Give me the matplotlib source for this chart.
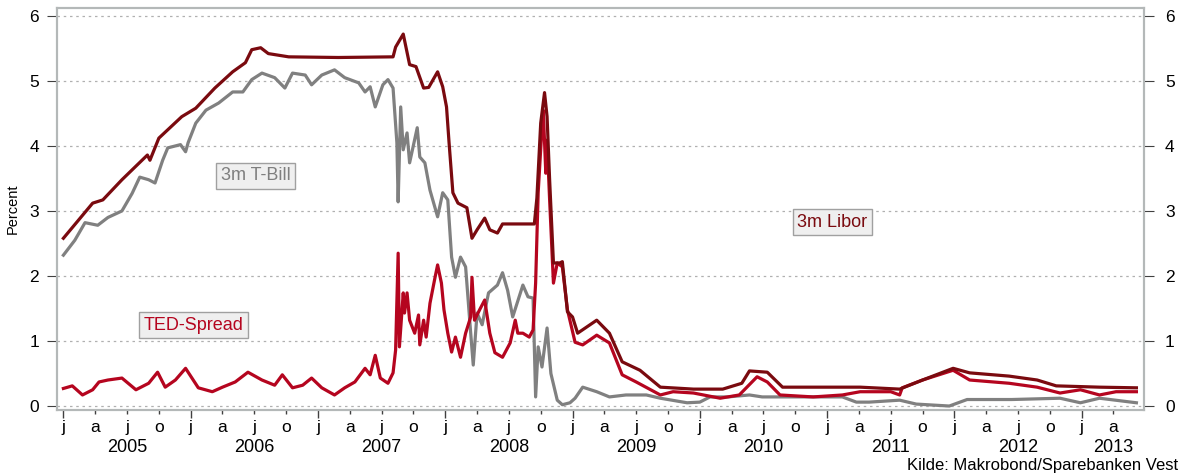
import matplotlib.pyplot as plt
import matplotlib.transforms as mtransforms

plt.rcParams['font.family'] = ['Liberation Sans', 'DejaVu Sans']

# dates as decimal years, values in percent
libor_t = [2005.0, 2005.23, 2005.31, 2005.46, 2005.66, 2005.68, 2005.75, 2005.93, 2006.04,
           2006.19, 2006.33, 2006.43, 2006.48, 2006.55, 2006.61, 2006.77, 2007.16, 2007.59,
           2007.61, 2007.67, 2007.72, 2007.77, 2007.83, 2007.87, 2007.94, 2007.98, 2008.01,
           2008.03, 2008.06, 2008.10, 2008.17, 2008.21, 2008.25, 2008.31, 2008.35, 2008.41,
           2008.45, 2008.70, 2008.72, 2008.75, 2008.78, 2008.80, 2008.82, 2008.85, 2008.90,
           2008.92, 2008.96, 2009.00, 2009.04, 2009.19, 2009.29, 2009.39, 2009.53, 2009.69,
           2009.95, 2010.18, 2010.33, 2010.39, 2010.53, 2010.65, 2010.89, 2011.26, 2011.57,
           2011.75, 2011.99, 2012.12, 2012.43, 2012.65, 2012.80, 2013.14, 2013.43]
libor_v = [2.58, 3.12, 3.17, 3.48, 3.86, 3.78, 4.12, 4.45, 4.58,
           4.89, 5.14, 5.28, 5.48, 5.51, 5.42, 5.37, 5.36, 5.37,
           5.52, 5.72, 5.25, 5.22, 4.89, 4.90, 5.14, 4.91, 4.60,
           4.05, 3.28, 3.12, 3.05, 2.58, 2.71, 2.89, 2.71, 2.66,
           2.80, 2.80, 3.20, 4.35, 4.82, 4.45, 3.48, 2.20, 2.20,
           2.22, 1.45, 1.37, 1.12, 1.32, 1.12, 0.68, 0.55, 0.29,
           0.26, 0.26, 0.35, 0.54, 0.52, 0.29, 0.29, 0.29, 0.26,
           0.40, 0.58, 0.51, 0.46, 0.40, 0.31, 0.29, 0.28]

tbill_t = [2005.0, 2005.09, 2005.17, 2005.27, 2005.35, 2005.46, 2005.54, 2005.60, 2005.67,
           2005.72, 2005.78, 2005.82, 2005.92, 2005.96, 2005.98, 2006.04, 2006.12, 2006.22,
           2006.33, 2006.41, 2006.48, 2006.56, 2006.66, 2006.74, 2006.80, 2006.90, 2006.95,
           2007.03, 2007.13, 2007.21, 2007.32, 2007.37, 2007.41, 2007.45, 2007.51, 2007.55,
           2007.59, 2007.62, 2007.63, 2007.65, 2007.67, 2007.70, 2007.72, 2007.78, 2007.80,
           2007.84, 2007.88, 2007.94, 2007.98, 2008.02, 2008.05, 2008.08, 2008.12, 2008.16,
           2008.20, 2008.22, 2008.25, 2008.29, 2008.34, 2008.41, 2008.45, 2008.49, 2008.53,
           2008.61, 2008.65, 2008.69, 2008.71, 2008.73, 2008.76, 2008.80, 2008.83, 2008.88,
           2008.92, 2008.98, 2009.02, 2009.08, 2009.19, 2009.29, 2009.42, 2009.58, 2009.69,
           2009.90, 2010.00, 2010.08, 2010.22, 2010.39, 2010.49, 2010.73, 2011.12, 2011.23,
           2011.33, 2011.57, 2011.70, 2011.96, 2012.10, 2012.45, 2012.83, 2012.99, 2013.14,
           2013.43]
tbill_v = [2.32, 2.55, 2.82, 2.78, 2.90, 3.00, 3.27, 3.52, 3.48,
           3.43, 3.78, 3.97, 4.02, 3.91, 4.05, 4.35, 4.55, 4.66,
           4.83, 4.83, 5.02, 5.12, 5.05, 4.89, 5.12, 5.09, 4.94,
           5.09, 5.17, 5.05, 4.97, 4.83, 4.91, 4.60, 4.94, 5.02,
           4.89, 4.05, 3.14, 4.60, 3.94, 4.20, 3.74, 4.28, 3.83,
           3.74, 3.32, 2.91, 3.28, 3.17, 2.29, 1.98, 2.29, 2.14,
           1.12, 0.63, 1.43, 1.25, 1.74, 1.86, 2.05, 1.78, 1.37,
           1.86, 1.68, 1.66, 0.14, 0.91, 0.60, 1.20, 0.50, 0.09,
           0.02, 0.05, 0.12, 0.29, 0.22, 0.14, 0.17, 0.17, 0.12,
           0.05, 0.06, 0.14, 0.14, 0.17, 0.14, 0.14, 0.14, 0.06,
           0.06, 0.09, 0.03, 0.00, 0.10, 0.10, 0.12, 0.05, 0.12,
           0.05]

ted_t = [2005.0, 2005.07, 2005.15, 2005.23, 2005.28, 2005.35, 2005.46, 2005.57, 2005.67,
         2005.74, 2005.80, 2005.88, 2005.96, 2006.01, 2006.06, 2006.17, 2006.25, 2006.35,
         2006.45, 2006.56, 2006.66, 2006.72, 2006.80, 2006.88, 2006.95, 2007.03, 2007.13,
         2007.21, 2007.29, 2007.37, 2007.41, 2007.45, 2007.49, 2007.55, 2007.59, 2007.61,
         2007.63, 2007.64, 2007.67, 2007.68, 2007.70, 2007.72, 2007.76, 2007.79, 2007.80,
         2007.83, 2007.85, 2007.88, 2007.92, 2007.94, 2007.97, 2007.99, 2008.02, 2008.05,
         2008.08, 2008.12, 2008.16, 2008.20, 2008.21, 2008.23, 2008.27, 2008.31, 2008.35,
         2008.39, 2008.45, 2008.51, 2008.55, 2008.57, 2008.61, 2008.66, 2008.69, 2008.71,
         2008.73, 2008.76, 2008.77, 2008.79, 2008.80, 2008.82, 2008.85, 2008.88, 2008.92,
         2008.96, 2009.02, 2009.08, 2009.19, 2009.29, 2009.39, 2009.50, 2009.69, 2009.79,
         2009.95, 2010.16, 2010.31, 2010.45, 2010.53, 2010.63, 2010.89, 2011.12, 2011.26,
         2011.50, 2011.57, 2011.59, 2011.75, 2011.99, 2012.12, 2012.43, 2012.65, 2012.83,
         2012.99, 2013.14, 2013.27, 2013.43]
ted_v = [0.27, 0.31, 0.17, 0.25, 0.37, 0.40, 0.43, 0.25, 0.35,
         0.52, 0.29, 0.40, 0.58, 0.43, 0.28, 0.22, 0.29, 0.37,
         0.52, 0.40, 0.32, 0.48, 0.28, 0.32, 0.43, 0.28, 0.17,
         0.28, 0.37, 0.58, 0.48, 0.78, 0.43, 0.35, 0.51, 0.86,
         2.35, 0.91, 1.74, 1.43, 1.74, 1.32, 1.12, 1.40, 0.94,
         1.32, 1.06, 1.58, 1.98, 2.17, 1.89, 1.48, 1.12, 0.83,
         1.06, 0.75, 1.12, 1.37, 1.98, 1.32, 1.48, 1.63, 1.12,
         0.82, 0.75, 0.97, 1.32, 1.12, 1.12, 1.06, 1.17, 1.89,
         3.28, 4.29, 4.55, 3.58, 4.09, 3.17, 1.89, 2.20, 2.14,
         1.48, 0.98, 0.94, 1.09, 0.97, 0.48, 0.37, 0.17, 0.22,
         0.20, 0.12, 0.17, 0.45, 0.37, 0.17, 0.14, 0.17, 0.22,
         0.22, 0.17, 0.28, 0.40, 0.55, 0.40, 0.35, 0.29, 0.20,
         0.25, 0.17, 0.22, 0.22]

years = [2005, 2006, 2007, 2008, 2009, 2010, 2011, 2012, 2013]
month_letters = ['j', 'a', 'j', 'o']

c_libor = '#7a0a0f'
c_ted = '#b5051f'
c_tbill = '#808080'
c_frame = '#b4b8b8'

fig = plt.figure(figsize=(11.88, 4.75), dpi=100)
ax = fig.add_axes([0.048, 0.137, 0.915, 0.846])

ax.plot(tbill_t, tbill_v, color=c_tbill, lw=2.3, zorder=3)
ax.plot(ted_t, ted_v, color=c_ted, lw=2.3, zorder=4)
ax.plot(libor_t, libor_v, color=c_libor, lw=2.3, zorder=5)

ax.set_xlim(2004.95, 2013.49)
ax.set_ylim(-0.06, 6.12)
ax.set_yticks(range(7))
ax.yaxis.grid(True, ls=(0, (2, 3)), color='#b0b0b0', lw=0.9)
ax.set_ylabel('Percent', fontsize=10.5)
ax.yaxis.set_label_coords(-0.034, 0.5)

# quarterly ticks, year labels centered below
qt = [y + q * 0.25 for y in years for q in range(4) if y + q * 0.25 < 2013.49]
ax.set_xticks([y for y in years])
ax.set_xticks(qt, minor=True)
ax.set_xticklabels([])
ax.tick_params(axis='x', which='major', length=6, color='#404040', width=1)
ax.tick_params(axis='x', which='minor', length=3, color='#404040', width=1)
trans = mtransforms.blended_transform_factory(ax.transData, ax.transAxes)
for i, t in enumerate(qt):
    ax.text(t, -0.025, month_letters[i % 4], transform=trans, ha='center', va='top', fontsize=12.5)
for y in years:
    xc = y + 0.5 if y < 2013 else (2013 + 2013.49) / 2
    ax.text(xc, -0.072, str(y), transform=trans, ha='center', va='top', fontsize=13)

ax.tick_params(axis='y', length=7, color='#404040', labelsize=12.5, pad=6)
for s in ax.spines.values():
    s.set_color(c_frame)
    s.set_linewidth(1.5)

ax2 = ax.twinx()
ax2.set_ylim(ax.get_ylim())
ax2.set_yticks(range(7))
ax2.tick_params(axis='y', length=7, color='#404040', labelsize=12.5, pad=8)
for s in ax2.spines.values():
    s.set_color(c_frame)
    s.set_linewidth(1.5)

box = dict(boxstyle='square,pad=0.25', facecolor='#efefef', edgecolor='#a0a0a0', lw=1)
ax.text(2006.51, 3.54, '3m T-Bill', color='#7f7f7f', fontsize=13, ha='center', va='center', bbox=box, zorder=6)
ax.text(2011.04, 2.83, '3m Libor', color=c_libor, fontsize=13, ha='center', va='center', bbox=box, zorder=6)
ax.text(2006.02, 1.24, 'TED-Spread', color=c_ted, fontsize=13, ha='center', va='center', bbox=box, zorder=6)

fig.text(0.992, 0.019, 'Kilde: Makrobond/Sparebanken Vest', ha='right', va='center', fontsize=12)

plt.savefig('out.png', dpi=100)
